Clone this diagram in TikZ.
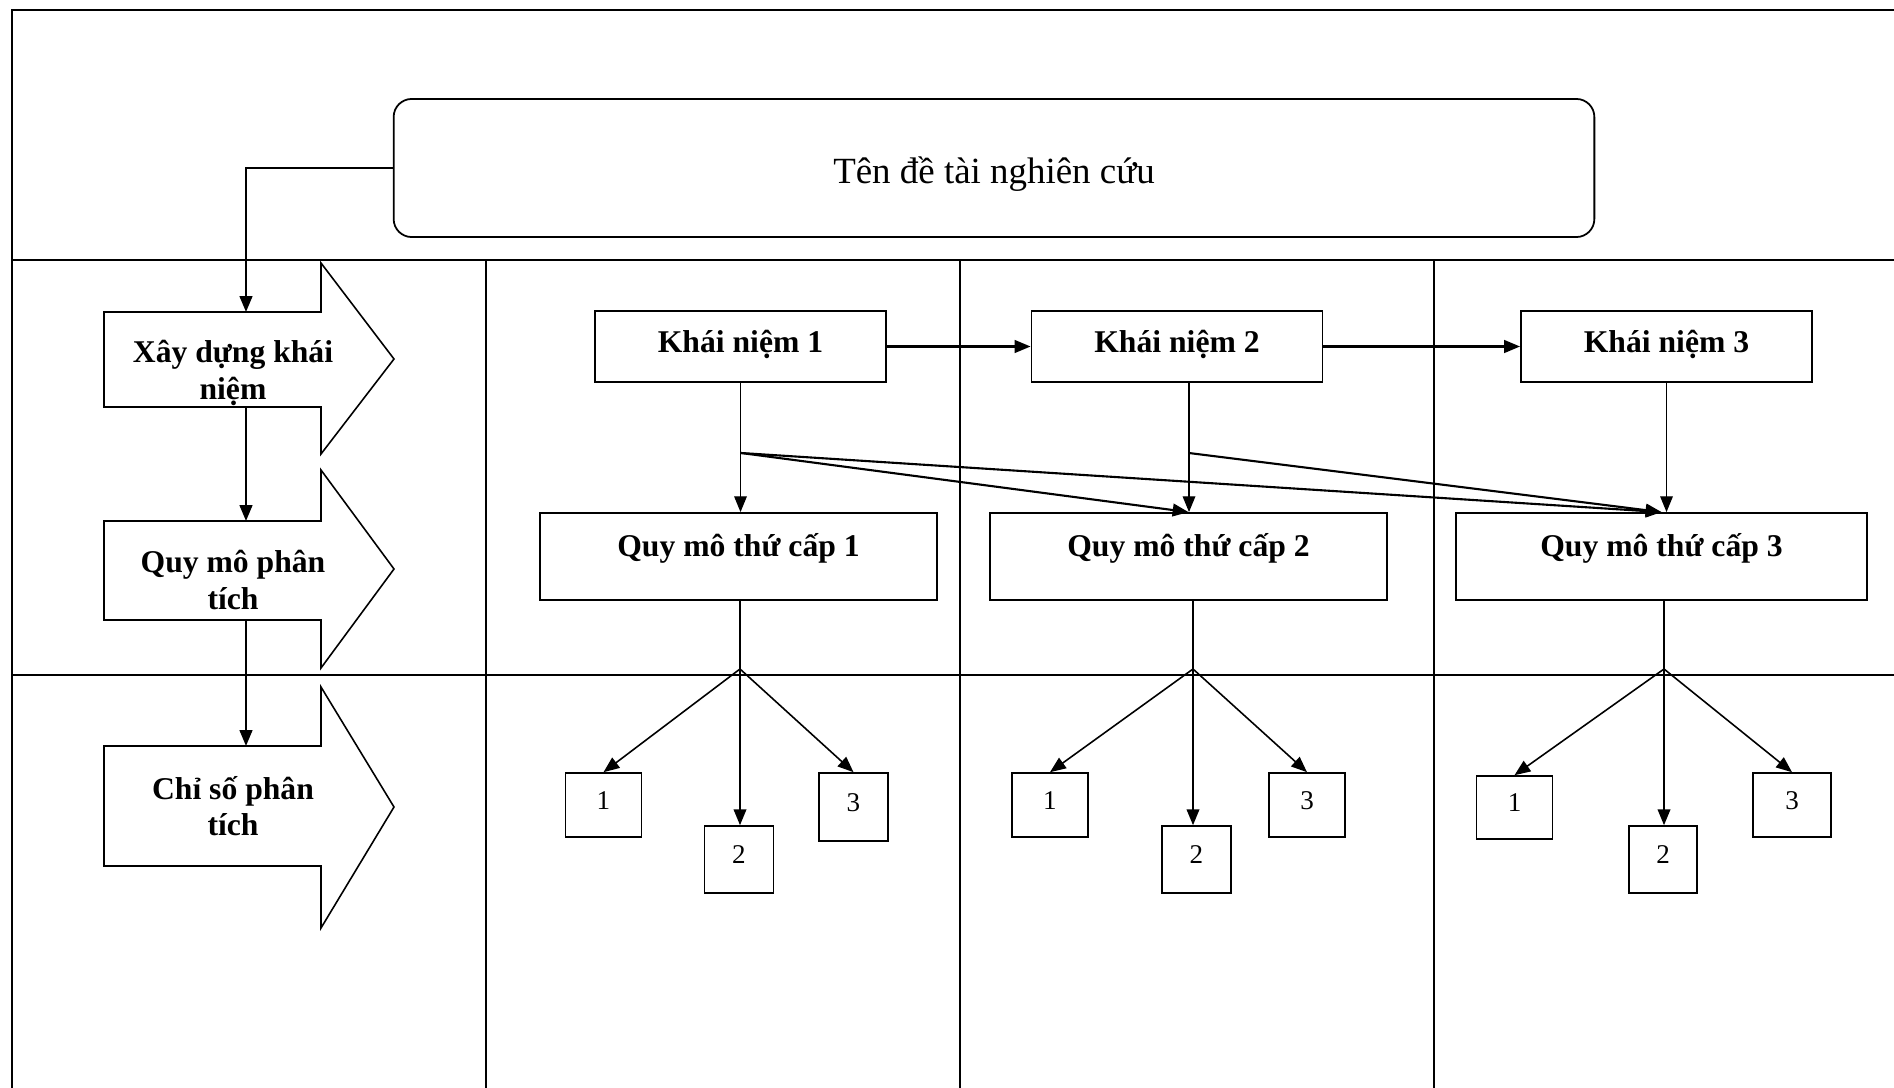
\documentclass[tikz,border=0pt]{standalone}
\usepackage{fontspec}
\setmainfont{Liberation Serif}
\usetikzlibrary{arrows.meta}

\begin{document}
\begin{tikzpicture}[x=0.01cm,y=-0.01cm,
    grid line/.style={line width=0.5pt},
    col line/.style={line width=0.35pt},
    stage/.style={draw,line width=0.45pt},
    stage text/.style={align=center,inner sep=0pt,font=\bfseries\fontsize{9}{10.3}\selectfont},
    concept/.style={draw,line width=0.5pt,inner sep=0pt,minimum width=2.91cm,minimum height=0.71cm,
        font=\bfseries\fontsize{9}{10.8}\selectfont,text height=0.25cm,text depth=0.14cm},
    subscale/.style={draw,line width=0.5pt,inner sep=0pt,minimum width=3.97cm,minimum height=0.87cm,
        font=\bfseries\fontsize{9}{10.8}\selectfont,text height=0.25cm,text depth=0.25cm},
    index/.style={draw,line width=0.45pt,inner sep=0pt,minimum width=0.76cm,minimum height=0.64cm,
        font=\fontsize{7.7}{9}\selectfont,text height=0.18cm,text depth=0.1cm},
    link/.style={line width=0.35pt,-{Triangle[length=4.5pt,width=3.6pt]}},
    heavy link/.style={line width=0.6pt,-{Triangle[length=4.5pt,width=3.6pt]}}
]
\useasboundingbox (0,0) rectangle (1894,1088);

% frame
\draw[grid line] (1894,10) -- (12,10) -- (12,1088);
\draw[grid line] (12,260) -- (1894,260);
\draw[grid line] (12,675) -- (1894,675);
\foreach \x in {486,960,1434}
    \draw[col line] (\x,260) -- (\x,1088);

% title
\node[draw,line width=0.5pt,rounded corners=0.18cm,minimum width=12cm,minimum height=1.38cm,
    font=\fontsize{10.5}{12.6}\selectfont,text height=0.36cm,text depth=0.06cm] (title) at (994,168) {Tên đề tài nghiên cứu};

% stages on the left
\draw[stage] (104,312) -- (321,312) -- (321,263) -- (394,359) -- (321,454) -- (321,407) -- (104,407) -- cycle;
\draw[stage] (104,521) -- (321,521) -- (321,470) -- (394,569) -- (321,668) -- (321,620) -- (104,620) -- cycle;
\draw[stage] (104,746) -- (321,746) -- (321,687) -- (394,807) -- (321,928) -- (321,866) -- (104,866) -- cycle;
\node[stage text] (build) at (233,373) {Xây dựng khái\\niệm};
\node[stage text] (scale) at (233,580) {Quy mô phân\\tích};
\node[stage text] (indic) at (233,806) {Chỉ số phân\\tích};

\coordinate (s1in) at (246,312);
\coordinate (s1out) at (246,407);
\coordinate (s2in) at (246,521);
\coordinate (s2out) at (246,620);
\coordinate (s3in) at (246,746);

\draw[heavy link] (title.west) -| (s1in);
\draw[heavy link] (s1out) -- (s2in);
\draw[heavy link] (s2out) -- (s3in);

% concepts
\node[concept] (k1) at (740.5,346.5) {Khái niệm 1};
\node[concept] (k2) at (1177,346.5) {Khái niệm 2};
\node[concept] (k3) at (1666.5,346.5) {Khái niệm 3};
\draw[heavy link] (k1.east) -- (k2.west);
\draw[heavy link] (k2.east) -- (k3.west);

% sub-scales
\node[subscale] (q1) at (738.5,556.5) {Quy mô thứ cấp 1};
\node[subscale] (q2) at (1188.5,556.5) {Quy mô thứ cấp 2};
\node[subscale,minimum width=4.11cm] (q3) at (1661.5,556.5) {Quy mô thứ cấp 3};

\coordinate (j1) at (741,453);
\coordinate (j2) at (1189,453);
\draw[link] (k1.south) -- (k1.south |- q1.north);
\draw[link] (j2 |- k2.south) -- (j2 |- q2.north);
\draw[link] (k3.south) -- (k3.south |- q3.north);
\draw[heavy link] (j1) -- (q2.north);
\draw[heavy link] (j1) -- (q3.north);
\draw[heavy link] (j2) -- (q3.north);

% indices
\node[index] (c11) at (603.5,805) {1};
\node[index,minimum width=0.69cm,minimum height=0.67cm] (c12) at (739,859.5) {2};
\node[index,minimum width=0.69cm,minimum height=0.68cm] (c13) at (853.5,807) {3};
\node[index] (c21) at (1050,805) {1};
\node[index,minimum width=0.69cm,minimum height=0.67cm] (c22) at (1196.5,859.5) {2};
\node[index] (c23) at (1307,805) {3};
\node[index,minimum height=0.63cm] (c31) at (1514.5,807.5) {1};
\node[index,minimum width=0.68cm,minimum height=0.67cm] (c32) at (1663,859.5) {2};
\node[index,minimum width=0.78cm] (c33) at (1792,805) {3};

\coordinate (f1) at (740,669);
\coordinate (f2) at (1193,669);
\coordinate (f3) at (1664,669);
\draw[line width=0.45pt] (f1 |- q1.south) -- (f1);
\draw[line width=0.45pt] (f2 |- q2.south) -- (f2);
\draw[line width=0.45pt] (f3 |- q3.south) -- (f3);
\foreach \c in {1,2,3} {
    \draw[link,line width=0.45pt] (f\c) -- (c\c1.north);
    \draw[link,line width=0.45pt] (f\c) -- (f\c |- c\c2.north);
    \draw[link,line width=0.45pt] (f\c) -- (c\c3.north);
}
\end{tikzpicture}
\end{document}
